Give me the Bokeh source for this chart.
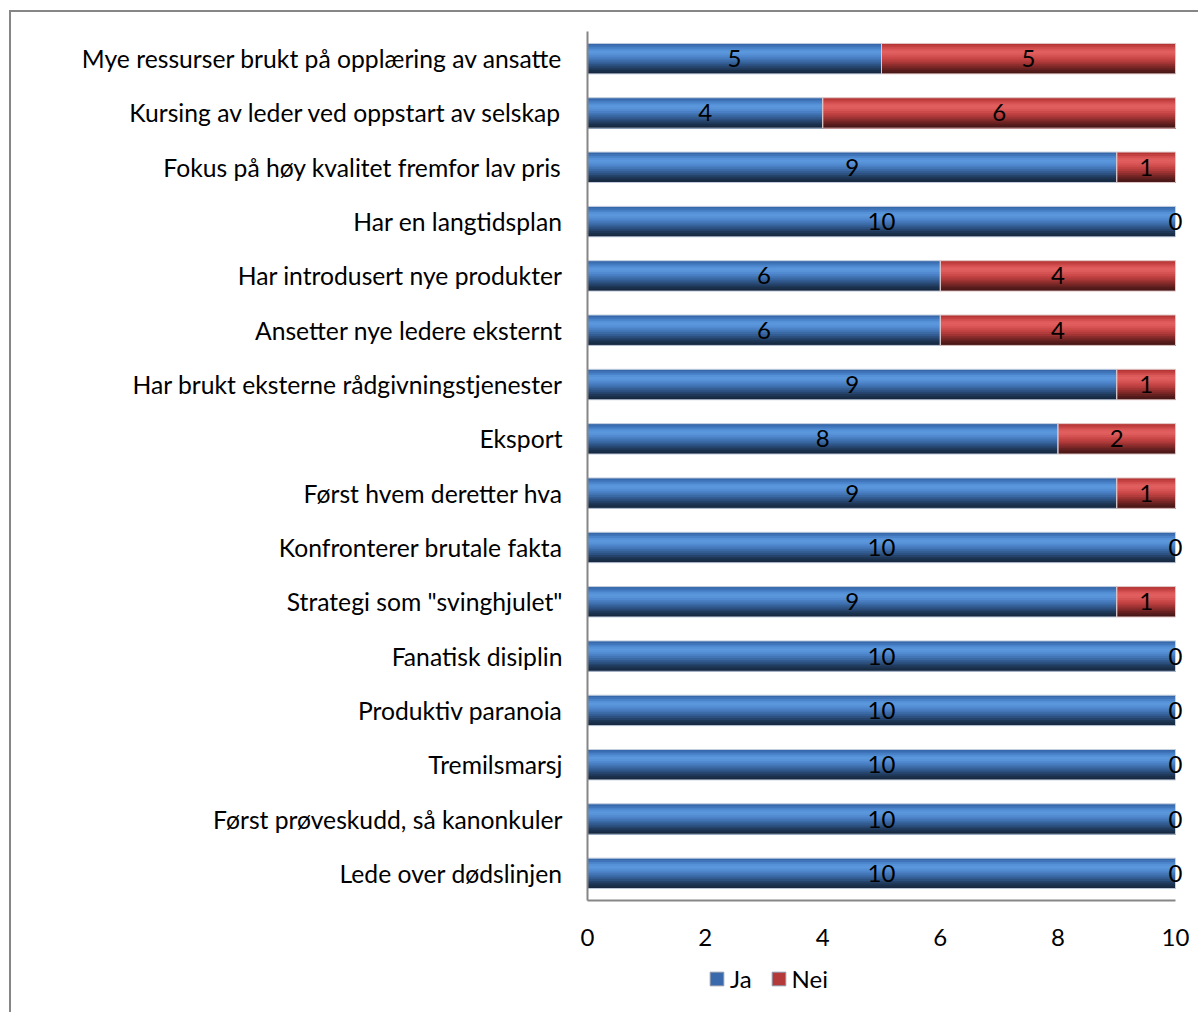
from bokeh.plotting import figure
from bokeh.models import FactorRange, Legend, LegendItem, ColumnDataSource
from bokeh.layouts import column
from bokeh.transform import dodge
from bokeh.core.properties import value
from bokeh.embed import file_html
from bokeh.resources import INLINE

categories = [
    "Mye ressurser brukt på opplæring av ansatte",
    "Kursing av leder ved oppstart av selskap",
    "Fokus på høy kvalitet fremfor lav pris",
    "Har en langtidsplan",
    "Har introdusert nye produkter",
    "Ansetter nye ledere eksternt",
    "Har brukt eksterne rådgivningstjenester",
    "Eksport",
    "Først hvem deretter hva",
    "Konfronterer brutale fakta",
    'Strategi som "svinghjulet"',
    "Fanatisk disiplin",
    "Produktiv paranoia",
    "Tremilsmarsj",
    "Først prøveskudd, så kanonkuler",
    "Lede over dødslinjen",
]
ja = [5, 4, 9, 10, 6, 6, 9, 8, 9, 10, 9, 10, 10, 10, 10, 10]
nei = [5, 6, 1, 0, 4, 4, 1, 2, 1, 0, 1, 0, 0, 0, 0, 0]
x_ticks = [0, 2, 4, 6, 8, 10]
series_names = ["Ja", "Nei"]
series_colors = ["#3a6aac", "#b43a3a"]

FONT = "Lato"
FS = "24px"
blue_grad = ["#3567aa", "#3f74b9", "#4a83ca", "#5591d6", "#5b97dc", "#5893d8",
             "#518ad0", "#4a80c3", "#4275b5", "#3a69a4", "#335d92", "#2c507f",
             "#25436b", "#1f3858", "#1a2f4a", "#172840"]
red_grad = ["#b53434", "#c34040", "#d24e4e", "#dd5a5a", "#e25f5f", "#de5b5b",
            "#d65353", "#cc4a4a", "#c04242", "#b23b3b", "#a03434", "#8c2d2d",
            "#782626", "#652020", "#551b1b", "#481717"]

src = ColumnDataSource(dict(
    cat=categories,
    ja=ja,
    nei=nei,
    zero=[0] * len(ja),
    total=[a + b for a, b in zip(ja, nei)],
    ja_mid=[a / 2 for a in ja],
    nei_mid=[a + b / 2 for a, b in zip(ja, nei)],
    ja_txt=[str(a) for a in ja],
    nei_txt=[str(b) for b in nei],
))

# frame extends a little past 10 so the "0" labels at the end are not clipped
p = figure(
    frame_width=603, frame_height=869,
    y_range=FactorRange(*reversed(categories)),
    x_range=(0, 10.255),
    output_backend="svg", toolbar_location=None,
    min_border_left=576, min_border_right=8, min_border_top=19, min_border_bottom=55,
)
p.outline_line_color = None
p.xgrid.grid_line_color = None
p.ygrid.grid_line_color = None
p.background_fill_color = "white"
p.border_fill_color = "white"

bar_h = 0.56
n = len(blue_grad)
strip = bar_h / n
for k in range(n):
    top = bar_h / 2 - strip * k
    bottom = -bar_h / 2
    off = (top + bottom) / 2
    hh = top - bottom
    p.hbar(y=dodge("cat", off, range=p.y_range), left="zero", right="ja",
           height=hh, source=src, fill_color=blue_grad[k], line_color=None)
    p.hbar(y=dodge("cat", off, range=p.y_range), left="ja", right="total",
           height=hh, source=src, fill_color=red_grad[k], line_color=None)

# thin outlines
p.hbar(y="cat", left="zero", right="ja", height=bar_h, source=src,
       fill_color=None, line_color="#c3cede", line_width=1)
p.hbar(y="cat", left="ja", right="total", height=bar_h, source=src,
       fill_color=None, line_color="#e0c6c6", line_width=1)

for xcol, tcol in (("ja_mid", "ja_txt"), ("nei_mid", "nei_txt")):
    p.text(x=xcol, y="cat", text=tcol, source=src, text_align="center",
           text_baseline="middle", text_font=value(FONT),
           text_font_size=FS, text_color="black")

# axes
p.xaxis.ticker = x_ticks
p.xaxis.bounds = (0, 10)
p.xaxis.major_tick_line_color = None
p.xaxis.minor_tick_line_color = None
p.xaxis.major_label_standoff = 22
p.xaxis.major_label_text_font = FONT
p.xaxis.major_label_text_font_size = FS
p.xaxis.major_label_text_color = "black"
p.xaxis.axis_line_color = "#868686"
p.xaxis.axis_line_width = 2

p.yaxis.major_tick_line_color = None
p.yaxis.minor_tick_line_color = None
p.yaxis.major_label_standoff = 19
p.yaxis.major_label_text_font = FONT
p.yaxis.major_label_text_font_size = "24.7px"
p.yaxis.major_label_text_color = "black"
p.yaxis.axis_line_color = "#868686"
p.yaxis.axis_line_width = 2

# legend strip below the chart
p2 = figure(frame_width=1187, frame_height=60, x_range=(0, 1), y_range=(0, 1),
            output_backend="svg", toolbar_location=None,
            min_border_left=0, min_border_right=0, min_border_top=0, min_border_bottom=0)
p2.axis.visible = False
p2.grid.grid_line_color = None
p2.outline_line_color = None
p2.border_fill_color = "white"
items = []
for name, col in zip(series_names, series_colors):
    # legend proxy placed outside the visible range
    r = p2.hbar(y=[-10], left=[0], right=[0.1], height=0.1, fill_color=col,
                line_color="#8c96a8")
    items.append(LegendItem(label=name, renderers=[r]))
legend = Legend(items=items, orientation="horizontal", location=(697, 22),
                label_text_font=FONT, label_text_font_size=FS, label_text_color="black",
                glyph_width=17, glyph_height=17, label_standoff=5, spacing=18,
                padding=0, margin=0, border_line_color=None, background_fill_alpha=0)
p2.add_layout(legend, "center")

layout = column(p, p2, spacing=0)
layout.margin = (10, 0, 0, 9)
layout.styles = {"border-top": "2px solid #868686", "border-left": "2px solid #868686"}

open("out.html", "w").write(file_html(layout, INLINE))
